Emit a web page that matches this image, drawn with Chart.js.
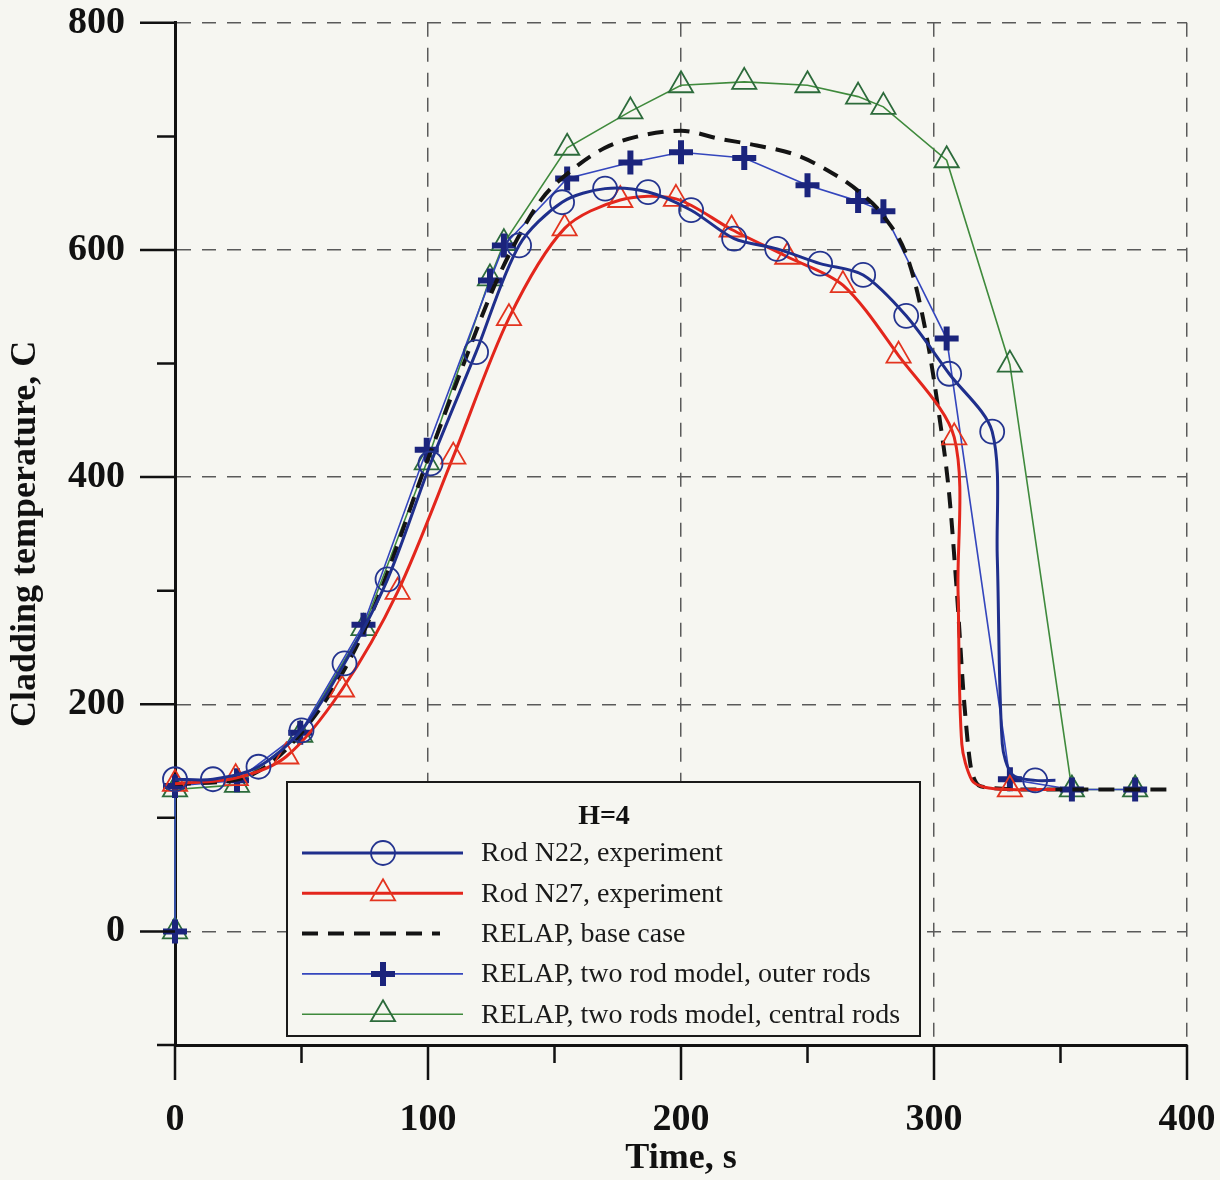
<!DOCTYPE html>
<html>
<head>
<meta charset="utf-8">
<title>Cladding temperature, H=4</title>
<script src="https://cdn.jsdelivr.net/npm/chart.js@4.4.0/dist/chart.umd.min.js"></script>
<style>
  html, body { margin: 0; background: #f6f6f1; }
  canvas { display: block; }
</style>
</head>
<body>
<canvas id="tempChart" width="1220" height="1180"></canvas>
<script>
// ---- data (time in s, temperature in C) ----
const xLabels = [0, 100, 200, 300, 400];
const yLabels = [0, 200, 400, 600, 800];

// Rod N22, experiment (circles)
const n22Time = [0, 15, 33, 50, 67, 84, 101, 119, 136, 153, 170, 187, 204, 221, 238, 255, 272, 289, 306, 323, 340];
const n22Temp = [134, 134, 145, 177, 236, 310, 412, 510, 604, 642, 654, 651, 635, 610, 601, 588, 578, 542, 491, 440, 133];
// curve points between markers (quench front)
const n22BendTime = [325, 327, 331, 348];
const n22BendTemp = [330, 165, 138, 133];

// Rod N27, experiment (triangles)
const n27Time = [0, 24, 44, 66, 88, 110, 132, 154, 176, 198, 220, 242, 264, 286, 308, 330];
const n27Temp = [130, 135, 154, 213, 299, 418, 540, 619, 644, 645, 618, 594, 569, 507, 435, 125];
const n27BendTime = [309.5, 311, 315, 320, 348];
const n27BendTemp = [300, 165, 133, 127, 125];

// RELAP, base case (dashed, no markers)
const baseTime = [0, 25, 50, 75, 100, 115, 125, 133, 145, 155, 170, 185, 200, 215, 230, 245, 258, 270, 280, 290, 297, 302, 306, 309, 312, 315, 320, 340, 370, 395];
const baseTemp = [130, 134, 175, 266, 416, 505, 562, 600, 645, 667, 690, 701, 705, 698, 692, 684, 670, 652, 630, 590, 525, 455, 385, 300, 200, 140, 127, 125, 125, 125];

// RELAP, two rod model, outer rods (plus)
const outerTime = [0, 0, 24.5, 49.5, 74.5, 99.5, 124.5, 130, 155, 180, 200, 225, 250, 270, 280, 305, 330, 354.5, 379.5];
const outerTemp = [0, 128, 133, 175, 270, 424, 573, 604, 663, 677, 686, 681, 657, 643, 634, 522, 134, 125, 125];

// RELAP, two rods model, central rods (triangles)
const centralTime = [0, 0, 24.5, 49.5, 74.5, 99.5, 124.5, 130, 155, 180, 200, 225, 250, 270, 280, 305, 330, 354.5, 379.5];
const centralTemp = [0, 125, 129, 173, 267, 413, 575, 606, 690, 722, 745, 748, 745, 735, 726, 679, 499, 125, 125];

const paper = '#f6f6f1';
const serif = "'Liberation Serif', 'Times New Roman', serif";

// marked points + unmarked curve points, sorted by time
function buildPoints(times, temps, bendTimes, bendTemps) {
    const pts = times.map((t, i) => ({ x: t, y: temps[i], mark: true }));
    (bendTimes || []).forEach((t, i) => pts.push({ x: t, y: bendTemps[i], mark: false }));
    return pts.sort((a, b) => a.x - b.x);
}
function pairs(times, temps) {
    return times.map((t, i) => ({ x: t, y: temps[i] }));
}
const markRadius = r => ctx => (ctx.raw && ctx.raw.mark === false) ? 0 : r;

const datasets = [
    {
        label: 'Rod N22, experiment',
        data: buildPoints(n22Time, n22Temp, n22BendTime, n22BendTemp),
        borderColor: '#1f2f8c', borderWidth: 3,
        tension: 0.3,
        pointStyle: 'circle', pointRadius: markRadius(12), legendRadius: 12,
        pointBorderColor: '#24348f', pointBorderWidth: 1.8, pointBackgroundColor: 'rgba(0,0,0,0)'
    },
    {
        label: 'Rod N27, experiment',
        data: buildPoints(n27Time, n27Temp, n27BendTime, n27BendTemp),
        borderColor: '#e3261c', borderWidth: 3,
        tension: 0.3,
        pointStyle: 'triangle', pointRadius: markRadius(14), legendRadius: 14,
        pointBorderColor: '#e3341f', pointBorderWidth: 1.8, pointBackgroundColor: 'rgba(0,0,0,0)'
    },
    {
        label: 'RELAP, base case',
        data: pairs(baseTime, baseTemp),
        borderColor: '#141414', borderWidth: 4, borderDash: [16, 10],
        cubicInterpolationMode: 'monotone',
        pointRadius: 0, legendRadius: 0
    },
    {
        label: 'RELAP, two rod model, outer rods',
        data: pairs(outerTime, outerTemp),
        borderColor: '#3446bd', borderWidth: 1.6, tension: 0,
        pointStyle: 'cross', pointRadius: 12, legendRadius: 12,
        pointBorderColor: '#1b247c', pointBorderWidth: 6
    },
    {
        label: 'RELAP, two rods model, central rods',
        data: pairs(centralTime, centralTemp),
        borderColor: '#3f8a3c', borderWidth: 1.6, tension: 0,
        pointStyle: 'triangle', pointRadius: 14, legendRadius: 14,
        pointBorderColor: '#2c6b3b', pointBorderWidth: 1.8, pointBackgroundColor: 'rgba(0,0,0,0)'
    }
];
datasets.forEach(d => { d.clip = false; d.fill = false; });

function drawMarker(ctx, style, r, x, y, color, width) {
    if (!r) return;
    ctx.save();
    ctx.strokeStyle = color;
    ctx.lineWidth = width;
    ctx.setLineDash([]);
    ctx.beginPath();
    if (style === 'circle') {
        ctx.arc(x, y, r, 0, Math.PI * 2);
    } else if (style === 'triangle') {
        ctx.moveTo(x, y - r);
        ctx.lineTo(x + r * Math.sin(2 * Math.PI / 3), y - r * Math.cos(2 * Math.PI / 3));
        ctx.lineTo(x + r * Math.sin(4 * Math.PI / 3), y - r * Math.cos(4 * Math.PI / 3));
        ctx.closePath();
    } else if (style === 'cross') {
        ctx.moveTo(x, y - r); ctx.lineTo(x, y + r);
        ctx.moveTo(x - r, y); ctx.lineTo(x + r, y);
    }
    ctx.stroke();
    ctx.restore();
}

const paperPlugin = {
    id: 'paper',
    beforeDraw(chart) {
        const c = chart.ctx;
        c.save();
        c.fillStyle = paper;
        c.fillRect(0, 0, chart.width, chart.height);
        c.restore();
    }
};

// long ticks at labelled values, short ones in between
const tickMarks = {
    id: 'tickMarks',
    afterDraw(chart) {
        const { ctx, chartArea: a } = chart;
        const x = chart.scales.x, y = chart.scales.y;
        ctx.save();
        ctx.strokeStyle = '#111';
        ctx.lineWidth = 2.5;
        ctx.beginPath();
        x.ticks.forEach(t => {
            const px = x.getPixelForValue(t.value);
            const len = xLabels.includes(t.value) ? 35 : 18;
            ctx.moveTo(px, a.bottom);
            ctx.lineTo(px, a.bottom + len);
        });
        y.ticks.forEach(t => {
            const py = y.getPixelForValue(t.value);
            const len = yLabels.includes(t.value) ? 35 : 18;
            ctx.moveTo(a.left, py);
            ctx.lineTo(a.left - len, py);
        });
        ctx.stroke();
        ctx.restore();
    }
};

// boxed legend inside the plot: line sample with marker in the middle
const boxLegend = {
    id: 'boxLegend',
    afterDraw(chart) {
        const ctx = chart.ctx;
        const box = { left: 287, top: 782, right: 920, bottom: 1036 };
        ctx.save();
        ctx.fillStyle = paper;
        ctx.fillRect(box.left, box.top, box.right - box.left, box.bottom - box.top);
        ctx.strokeStyle = '#1a1a1a';
        ctx.lineWidth = 2;
        ctx.strokeRect(box.left, box.top, box.right - box.left, box.bottom - box.top);

        ctx.fillStyle = '#111';
        ctx.font = 'bold 28px ' + serif;
        ctx.textAlign = 'center';
        ctx.textBaseline = 'middle';
        ctx.fillText('H=4', 604, 817);

        ctx.font = '28px ' + serif;
        ctx.textAlign = 'left';
        chart.data.datasets.forEach((d, i) => {
            const yy = 853 + i * 40.3;
            ctx.save();
            ctx.strokeStyle = d.borderColor;
            ctx.lineWidth = d.borderWidth;
            ctx.setLineDash(d.borderDash || []);
            ctx.beginPath();
            ctx.moveTo(302, yy);
            ctx.lineTo(d.borderDash ? 440 : 463, yy);
            ctx.stroke();
            ctx.restore();
            drawMarker(ctx, d.pointStyle, d.legendRadius, 383, yy, d.pointBorderColor, d.pointBorderWidth);
            ctx.fillStyle = '#1a1a1a';
            ctx.fillText(d.label, 481, yy + 1);
        });
        ctx.restore();
    }
};

const gridColor = '#5a5a5a';
const clear = 'rgba(0,0,0,0)';

new Chart(document.getElementById('tempChart'), {
    type: 'line',
    data: { datasets },
    plugins: [paperPlugin, tickMarks, boxLegend],
    options: {
        responsive: false,
        animation: false,
        events: [],
        layout: { padding: { top: 22, right: 33, left: 0, bottom: 0 } },
        plugins: { legend: { display: false }, tooltip: { enabled: false } },
        scales: {
            x: {
                type: 'linear',
                min: 0, max: 400,
                afterFit: s => { s.height = 135; },
                ticks: {
                    stepSize: 50,
                    padding: 0,
                    color: '#111',
                    font: { family: serif, size: 38, weight: 'bold' },
                    maxRotation: 0,
                    callback: v => xLabels.includes(v) ? String(v) : ''
                },
                grid: {
                    drawTicks: true,
                    tickLength: 52,
                    tickColor: clear,
                    lineWidth: 1.5,
                    color: c => (c.tick && c.tick.value > 0 && c.tick.value % 100 === 0) ? gridColor : clear
                },
                border: { display: true, color: '#111', width: 3, dash: [14, 11] },
                title: {
                    display: true,
                    text: 'Time, s',
                    color: '#111',
                    font: { family: serif, size: 36, weight: 'bold' },
                    padding: { top: 0, bottom: 0 }
                }
            },
            y: {
                type: 'linear',
                min: -100, max: 800,
                afterFit: s => { s.width = 175; },
                ticks: {
                    stepSize: 100,
                    padding: 0,
                    color: '#111',
                    font: { family: serif, size: 38, weight: 'bold' },
                    callback: v => yLabels.includes(v) ? String(v) : ''
                },
                grid: {
                    drawTicks: true,
                    tickLength: 50,
                    tickColor: clear,
                    lineWidth: 1.5,
                    color: c => (c.tick && yLabels.includes(c.tick.value)) ? gridColor : clear
                },
                border: { display: true, color: '#111', width: 3, dash: [14, 11] },
                title: {
                    display: true,
                    text: 'Cladding temperature, C',
                    color: '#111',
                    font: { family: serif, size: 36, weight: 'bold' },
                    padding: { top: 4, bottom: 0 }
                }
            }
        }
    }
});
</script>
</body>
</html>
